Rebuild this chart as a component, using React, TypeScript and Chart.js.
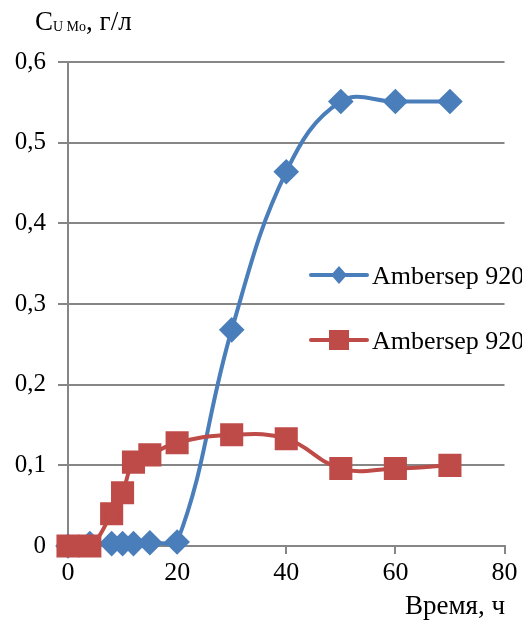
import React, { useEffect, useRef } from "react";
import { Chart, registerables } from "chart.js";

Chart.register(...registerables);

const timeHours = [0, 4, 8, 10, 12, 15, 20, 30, 40, 50, 60, 70];
const blueValues = [0, 0.003, 0.003, 0.003, 0.003, 0.004, 0.005, 0.268, 0.464, 0.551, 0.551, 0.551];
const redValues = [0, 0, 0.04, 0.066, 0.104, 0.113, 0.128, 0.138, 0.133, 0.096, 0.096, 0.1];
const seriesNames = ["Ambersep 920", "Ambersep 920"];
const xTickValues = [0, 20, 40, 60, 80];
const yTickValues = [0, 0.1, 0.2, 0.3, 0.4, 0.5, 0.6];

const BLUE = "#4a7ebb";
const RED = "#be4b48";
const GRID = "#868686";
const FONT = "'Liberation Serif', 'Times New Roman', serif";

export default function App() {
  const ref = useRef<HTMLCanvasElement>(null);
  useEffect(() => {
    document.body.style.margin = "0";
    const canvas = ref.current!;
    const overlay = {
      id: "overlay",
      afterDraw(chart: any) {
        const ctx = chart.ctx as CanvasRenderingContext2D;
        ctx.save();
        ctx.fillStyle = "#000";
        ctx.textBaseline = "alphabetic";
        ctx.textAlign = "left";
        ctx.font = `27px ${FONT}`;
        ctx.fillText("C", 35, 30);
        let x = 35 + ctx.measureText("C").width;
        ctx.font = `14px ${FONT}`;
        ctx.fillText("U Mo", x, 31);
        x += ctx.measureText("U Mo").width;
        ctx.font = `27px ${FONT}`;
        ctx.fillText(", г/л", x, 30);
        ctx.textAlign = "right";
        ctx.fillText("Время, ч", 505, 614);
        const items = [
          { y: 275, color: BLUE, style: "diamond", name: seriesNames[0] },
          { y: 340, color: RED, style: "square", name: seriesNames[1] },
        ];
        for (const it of items) {
          ctx.strokeStyle = it.color;
          ctx.lineWidth = 4;
          ctx.lineCap = "round";
          ctx.beginPath();
          ctx.moveTo(311, it.y);
          ctx.lineTo(367, it.y);
          ctx.stroke();
          ctx.fillStyle = it.color;
          ctx.beginPath();
          if (it.style === "diamond") {
            ctx.moveTo(339, it.y - 9);
            ctx.lineTo(347, it.y);
            ctx.lineTo(339, it.y + 9);
            ctx.lineTo(331, it.y);
            ctx.closePath();
          } else {
            ctx.rect(329, it.y - 10, 20, 20);
          }
          ctx.fill();
          ctx.fillStyle = "#000";
          ctx.textAlign = "left";
          ctx.textBaseline = "middle";
          ctx.font = `26px ${FONT}`;
          ctx.fillText(it.name, 372, it.y + 2);
        }
        ctx.restore();
      },
    };
    const chart = new Chart(canvas, {
      type: "line",
      data: {
        datasets: [
          {
            label: seriesNames[0],
            data: timeHours.map((t, i) => ({ x: t, y: blueValues[i] })),
            borderColor: BLUE,
            backgroundColor: BLUE,
            borderWidth: 4,
            pointStyle: "rectRot",
            pointRadius: 10,
            pointHoverRadius: 10,
            tension: 0.4,
            clip: false,
            order: 2,
          },
          {
            label: seriesNames[1],
            data: timeHours.map((t, i) => ({ x: t, y: redValues[i] })),
            borderColor: RED,
            backgroundColor: RED,
            borderWidth: 4,
            pointStyle: "rect",
            pointRadius: 13.5,
            pointHoverRadius: 13.5,
            tension: 0.4,
            clip: false,
            order: 1,
          },
        ],
      },
      options: {
        responsive: false,
        animation: false,
        layout: { padding: { top: 62, right: 17, left: 0, bottom: 0 } },
        plugins: { legend: { display: false }, tooltip: { enabled: false } },
        scales: {
          x: {
            type: "linear",
            min: 0,
            max: 80,
            afterBuildTicks: (s: any) => {
              s.ticks = xTickValues.map((v) => ({ value: v }));
            },
            afterFit: (s: any) => {
              s.height = 76;
            },
            grid: {
              drawOnChartArea: false,
              drawTicks: true,
              tickLength: 8,
              color: GRID,
              lineWidth: 2,
            },
            border: { color: GRID, width: 2 },
            ticks: {
              color: "#000",
              font: { family: FONT, size: 26 },
              padding: 4,
              maxRotation: 0,
            },
          },
          y: {
            min: 0,
            max: 0.6,
            afterBuildTicks: (s: any) => {
              s.ticks = yTickValues.map((v) => ({ value: v }));
            },
            afterFit: (s: any) => {
              s.width = 68;
            },
            grid: {
              color: GRID,
              lineWidth: 2,
              drawTicks: true,
              tickLength: 10,
            },
            border: { color: GRID, width: 2 },
            ticks: {
              color: "#000",
              font: { family: FONT, size: 25 },
              padding: 12,
              callback: (v: any) => (v === 0 ? "0" : Number(v).toFixed(1).replace(".", ",")),
            },
          },
        },
      },
      plugins: [overlay],
    });
    return () => chart.destroy();
  }, []);
  return <canvas ref={ref} width={522} height={622} style={{ display: "block" }} />;
}
